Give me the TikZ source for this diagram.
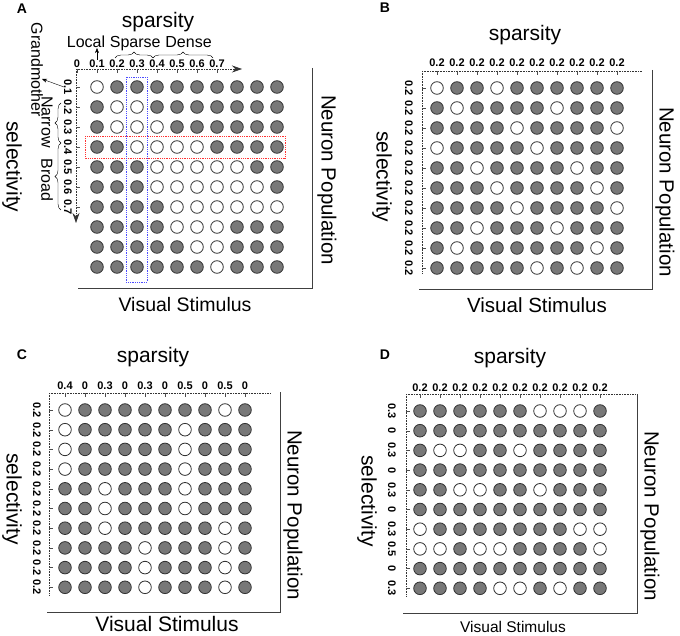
\documentclass[tikz,border=0pt]{standalone}
\usepackage{fontspec}
\setmainfont{Liberation Sans}
\usetikzlibrary{
  arrows.meta,
  positioning,  % base right=of
  calc,         % offsets of the highlight boxes
  decorations.pathreplacing,  % braces
}
\definecolor{cellgray}{HTML}{787878}
\def\mycdist{20}     % column distance
\def\myrdist{20}     % row distance (A, B)
\def\myrdistc{19.7}  % row distance (C, D)
% #1 name, #2/#3 first cell, #4/#5 steps, #6 rows (1 = white)
\newcommand{\cells}[6]{%
  \foreach \rw [count=\ri] in {#6}{
    \foreach \v [count=\ci] in \rw{
      \node[cell\v] (#1-\ri-\ci) at ({#2+(\ci-1)*#4},{#3+(\ri-1)*#5}) {};
    }
  }
}
\tikzset{
  semithick,
  >={Stealth[length=5pt,width=4pt]},
  cell/.style={
    circle,
    draw=black!80,
    line width=0.8pt,
    minimum size=12.6pt,
    inner sep=0pt
  },
  cell0/.style={cell, fill=cellgray},
  cell1/.style={cell, fill=white},
  title/.style={font=\fontsize{21}{21}\selectfont, inner sep=0pt},
  side/.style={font=\fontsize{20.5}{20.5}\selectfont, rotate=-90, inner sep=0pt},
  sel/.style={font=\fontsize{21}{21}\selectfont, rotate=-90, inner sep=0pt},
  stim/.style={font=\fontsize{#1}{#1}\selectfont, inner sep=0pt},
  cue/.style={font=\fontsize{16}{16}\selectfont, inner sep=0pt},
  num/.style={font=\fontsize{11}{11}\selectfont\bfseries, inner sep=0pt},
  letter/.style={font=\fontsize{14}{14}\selectfont\bfseries, inner sep=0pt},
  axis/.style={densely dotted, line width=0.6pt, black!80},
  axis arrow/.style={axis, -{Stealth[length=10pt,width=7pt]}},
  tickmark/.style={thin, black!70},
  frame/.style={line width=0.8pt, black!75},
  brace/.style={decorate, decoration={brace, amplitude=6pt}, thin},
  rowbox/.style={densely dotted, thick, red!80},
  colbox/.style={densely dotted, thick, blue!70}
}

\begin{document}
\begin{tikzpicture}[x=1pt, y=-1pt]
\useasboundingbox[fill=white] (0,0) rectangle (680,636);

%% A
\node[letter] (a-letter) at (22,9) {A};
\node[title] (a-title) at (158,22) {sparsity};
\node[cue] (local) at (86,42) {Local};
\node[cue, base right=4.4pt of local] (sparse) {Sparse};
\node[cue, base right=4.4pt of sparse] (dense) {Dense};
\coordinate (a-o) at (76,69);
\coordinate (a-x) at (242,69);
\coordinate (a-y) at (76,223);
\draw[axis arrow] (a-o) -- (a-x);
\draw[axis arrow] (a-o) -- (a-y);
\foreach \t [count=\i from 0] in {0,0.1,0.2,0.3,0.4,0.5,0.6,0.7}{
  \node[num, anchor=base] (a-t\i) at ({77+\i*20},67.5) {\t};
  \draw[tickmark] (a-t\i |- a-o) -- ++(0,4);
}
\foreach \i in {1,...,7}{
  \node[num, rotate=-90] (a-l\i) at (68,{87+(\i-1)*20}) {0.\i};
  \draw[tickmark] (a-o |- a-l\i) -- ++(4,0);
}
\draw[->] (a-t1.north) -- (a-t1.north |- local.south);
\coordinate (sb-l) at (115,58);
\coordinate (sb-r) at (153,58);
\coordinate (db-r) at (213,58);
\draw[brace] (sb-l) -- (sb-r);
\draw[brace] (sb-r) -- (db-r);
\node[cue, rotate=-90] (gm) at (37,70) {Grandmother};
\node[cue, rotate=-90] (narrow) at (47,122) {Narrow};
\node[cue, rotate=-90] (broad) at (47,180) {Broad};
\coordinate (gm-tip) at (42,79);
\draw[->] (a-l1.south) -- (gm-tip);
\coordinate (nb-t) at (61,103);
\coordinate (nb-b) at (61,143);
\coordinate (bb-b) at (61,210);
\draw[brace] (nb-b) -- (nb-t);
\draw[brace] (bb-b) -- (nb-b);
\cells{a}{97}{87}{\mycdist}{\myrdist}{
  {1,0,0,0,0,0,0,0,0,0},
  {0,1,1,0,0,0,0,0,0,0},
  {0,1,1,1,0,0,0,0,0,0},
  {0,0,1,1,1,1,0,0,0,0},
  {0,0,0,1,1,1,1,1,0,0},
  {0,0,0,1,1,1,1,1,1,0},
  {0,0,0,0,1,1,1,1,1,1},
  {0,0,0,0,1,1,1,0,0,0},
  {0,0,0,0,0,1,1,0,0,0},
  {0,0,0,0,0,0,1,0,0,0}}
\draw[rowbox] ($(a-4-1)+(-12,-11)$) rectangle ($(a-4-10)+(8,11)$);
\draw[colbox] ($(a-1-3)+(-11,-10)$) rectangle ($(a-10-3)+(10,15)$);
\coordinate (a-tr) at (312,68);
\coordinate (a-br) at (312,288);
\coordinate (a-bl) at (78,288);
\draw[frame] (a-tr) -- (a-br) -- (a-bl);
\node[side] (a-pop) at (327,180) {Neuron Population};
\node[sel] (a-sel) at (12,167) {selectivity};
\node[stim=19.5] (a-stim) at (185,305) {Visual Stimulus};

%% B
\node[letter] (b-letter) at (385,8) {B};
\node[title] (b-title) at (525,35) {sparsity};
\coordinate (b-o) at (422,71);
\coordinate (b-x) at (642,71);
\coordinate (b-y) at (422,273);
\draw[axis] (b-o) -- (b-x);
\draw[axis] (b-o) -- (b-y);
\cells{b}{437}{88}{\mycdist}{\myrdist}{
  {1,0,0,1,0,0,0,0,0,0},
  {0,1,0,0,0,0,1,0,0,0},
  {0,0,0,0,1,0,0,0,0,1},
  {1,0,0,0,0,1,0,0,0,0},
  {0,0,1,0,0,0,0,1,0,0},
  {0,0,0,1,0,0,0,0,1,0},
  {0,0,0,0,1,0,0,0,0,1},
  {0,0,1,0,0,0,1,0,0,0},
  {0,1,0,0,0,0,0,0,1,0},
  {0,0,0,0,0,1,0,1,0,0}}
\foreach \i in {1,...,10}{
  \node[num, anchor=base] (b-t\i) at ({437+(\i-1)*20},67) {0.2};
  \draw[tickmark] (b-t\i |- b-o) -- ++(0,4);
  \node[num, rotate=-90] (b-l\i) at (409,{88+(\i-1)*20}) {0.2};
  \draw[tickmark] (b-o |- b-l\i) -- ++(4,0);
}
\coordinate (b-tr) at (652,70);
\coordinate (b-br) at (652,289);
\coordinate (b-bl) at (419,289);
\draw[frame] (b-tr) -- (b-br) -- (b-bl);
\node[side] (b-pop) at (665,192) {Neuron Population};
\node[sel] (b-sel) at (382,177) {selectivity};
\node[stim=20.5] (b-stim) at (537,305) {Visual Stimulus};

%% C
\node[letter] (c-letter) at (22,355) {C};
\node[title] (c-title) at (153,357) {sparsity};
\coordinate (c-o) at (49,393);
\coordinate (c-x) at (270,393);
\coordinate (c-y) at (49,595);
\draw[axis] (c-o) -- (c-x);
\draw[axis] (c-o) -- (c-y);
\cells{c}{65}{410}{\mycdist}{\myrdistc}{
  {1,0,0,0,0,0,0,0,1,0},
  {1,0,0,0,0,0,1,0,0,0},
  {1,0,0,0,0,0,1,0,0,0},
  {1,0,0,0,0,0,1,0,0,0},
  {0,0,1,0,0,0,1,0,0,0},
  {0,0,1,0,0,0,1,0,0,0},
  {0,0,1,0,0,0,0,0,1,0},
  {0,0,0,0,1,0,0,0,1,0},
  {0,0,0,0,1,0,0,0,1,0},
  {0,0,0,0,1,0,0,0,1,0}}
\foreach \t [count=\i] in {0.4,0,0.3,0,0.3,0,0.5,0,0.5,0}{
  \node[num, anchor=base] (c-t\i) at ({65+(\i-1)*20},389) {\t};
  \draw[tickmark] (c-t\i |- c-o) -- ++(0,4);
  \node[num, rotate=-90] (c-l\i) at (37,{410+(\i-1)*\myrdistc}) {0.2};
  \draw[tickmark] (c-o |- c-l\i) -- ++(4,0);
}
\coordinate (c-tr) at (280,392);
\coordinate (c-br) at (280,612);
\coordinate (c-bl) at (47,612);
\draw[frame] (c-tr) -- (c-br) -- (c-bl);
\node[side] (c-pop) at (293,515) {Neuron Population};
\node[sel] (c-sel) at (12,499) {selectivity};
\node[stim=21] (c-stim) at (167,624) {Visual Stimulus};

%% D
\node[letter] (d-letter) at (385,355) {D};
\node[title] (d-title) at (510,358) {sparsity};
\coordinate (d-o) at (406,394);
\coordinate (d-x) at (635,394);
\coordinate (d-y) at (406,597);
\draw[axis] (d-o) -- (d-x);
\draw[axis] (d-o) -- (d-y);
\cells{d}{420}{411}{\mycdist}{\myrdistc}{
  {0,0,0,0,0,0,1,1,1,0},
  {0,0,0,0,0,0,0,0,0,0},
  {0,1,1,0,0,1,0,0,0,0},
  {0,0,0,0,0,0,0,0,0,0},
  {0,0,1,1,0,0,1,0,0,0},
  {0,0,0,0,0,0,0,0,0,0},
  {1,0,0,0,0,0,0,0,1,1},
  {1,1,0,1,1,0,0,0,0,1},
  {0,0,0,0,0,0,0,0,0,0},
  {0,0,0,0,1,1,0,1,0,0}}
\foreach \t [count=\i] in {0.3,0,0.3,0,0.3,0,0.3,0.5,0,0.3}{
  \node[num, anchor=base] (d-t\i) at ({420+(\i-1)*20},391) {0.2};
  \draw[tickmark] (d-t\i |- d-o) -- ++(0,4);
  \node[num, rotate=-90] (d-l\i) at (392,{411+(\i-1)*\myrdistc}) {\t};
  \draw[tickmark] (d-o |- d-l\i) -- ++(4,0);
}
\coordinate (d-tr) at (637,394);
\coordinate (d-br) at (637,613);
\coordinate (d-bl) at (403,613);
\draw[frame] (d-tr) -- (d-br) -- (d-bl);
\node[side] (d-pop) at (650,516) {Neuron Population};
\node[sel] (d-sel) at (367,501) {selectivity};
\node[stim=15.5] (d-stim) at (513,626.5) {Visual Stimulus};
\end{tikzpicture}
\end{document}
